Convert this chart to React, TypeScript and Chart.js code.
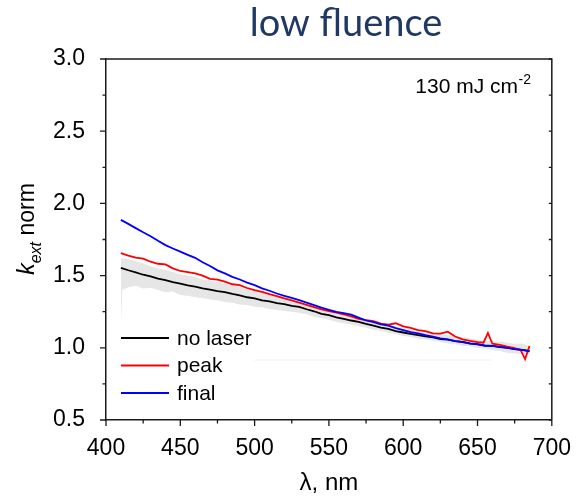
import React, { useEffect, useRef } from "react";
import { Chart, registerables } from "chart.js";

Chart.register(...registerables);

// ---------- data ----------
const chartTitle = "low fluence";
const xAxisTitle = "λ, nm";
const fluenceLabel = "130 mJ cm";
const fluenceExp = "-2";

const xMajorTicks = [400, 450, 500, 550, 600, 650, 700];
const xMinorTicks = [425, 475, 525, 575, 625, 675];
const yMajorTicks = [0.5, 1.0, 1.5, 2.0, 2.5, 3.0];
const yMinorTicks = [0.75, 1.25, 1.75, 2.25, 2.75];

const wavelengths = [
  410, 415, 420, 425, 430, 435, 440, 445, 450, 455, 460, 465, 470, 475, 480, 485, 490, 495, 500, 505,
  510, 515, 520, 525, 530, 535, 540, 545, 550, 555, 560, 565, 570, 575, 580, 585, 590, 595, 600, 605,
  610, 615, 620, 625, 630, 635, 640, 645, 650, 655, 660, 665, 670, 675, 680, 685,
];

const noLaser = [
  1.554, 1.537, 1.523, 1.506, 1.494, 1.479, 1.468, 1.455, 1.445, 1.432, 1.423, 1.411, 1.403, 1.393, 1.386, 1.373,
  1.363, 1.350, 1.342, 1.329, 1.321, 1.310, 1.302, 1.291, 1.283, 1.267, 1.253, 1.235, 1.226, 1.211, 1.201, 1.189,
  1.179, 1.165, 1.153, 1.139, 1.131, 1.116, 1.106, 1.096, 1.088, 1.079, 1.072, 1.061, 1.056, 1.046, 1.041, 1.031,
  1.023, 1.014, 1.013, 1.006, 1.001, 0.991, 0.986, 0.978,
];

const finalState = [
  1.886, 1.858, 1.829, 1.800, 1.773, 1.741, 1.711, 1.688, 1.666, 1.644, 1.623, 1.592, 1.566, 1.536, 1.515, 1.491,
  1.473, 1.451, 1.434, 1.412, 1.395, 1.376, 1.360, 1.345, 1.330, 1.313, 1.296, 1.278, 1.263, 1.248, 1.240, 1.230,
  1.209, 1.189, 1.177, 1.163, 1.153, 1.136, 1.123, 1.109, 1.100, 1.087, 1.078, 1.066, 1.058, 1.046, 1.040, 1.029,
  1.025, 1.017, 1.014, 1.004, 0.999, 0.991, 0.986, 0.975,
];

const peakWavelengths = [
  410, 415, 420, 425, 430, 435, 440, 445, 450, 455, 460, 465, 470, 475, 480, 485, 490, 495, 500, 505,
  510, 515, 520, 525, 530, 535, 540, 545, 550, 555, 560, 565, 570, 575, 580, 585, 590, 595, 600, 605,
  610, 615, 620, 625, 630, 635, 640, 645, 650, 654, 657, 660, 665, 670, 675, 679, 682, 685,
];

const peak = [
  1.655, 1.638, 1.625, 1.618, 1.596, 1.582, 1.578, 1.550, 1.532, 1.524, 1.515, 1.500, 1.478, 1.472, 1.458, 1.440,
  1.434, 1.414, 1.400, 1.388, 1.372, 1.358, 1.342, 1.328, 1.313, 1.297, 1.281, 1.266, 1.254, 1.243, 1.231, 1.218,
  1.200, 1.192, 1.185, 1.168, 1.160, 1.170, 1.148, 1.138, 1.122, 1.115, 1.100, 1.098, 1.112, 1.078, 1.058, 1.048,
  1.040, 1.035, 1.103, 1.028, 1.020, 1.008, 0.998, 0.985, 0.922, 1.012,
];

const bandWavelengths = [
  410, 411, 415, 420, 425, 430, 435, 440, 445, 450, 455, 460, 465, 470, 475, 480, 485, 490, 495, 500,
  505, 510, 515, 520, 525, 530, 535, 540, 545, 550, 555, 560, 565, 570, 575, 580, 585, 590, 595, 600,
  605, 610, 615, 620, 625, 630, 635, 640, 645, 650, 655, 660, 665, 670, 675, 680, 685,
];

const bandUpper = [
  1.620, 1.620, 1.615, 1.600, 1.585, 1.565, 1.550, 1.540, 1.525, 1.510, 1.500, 1.490, 1.475, 1.465, 1.455, 1.445,
  1.432, 1.420, 1.410, 1.398, 1.386, 1.370, 1.356, 1.342, 1.330, 1.316, 1.300, 1.284, 1.268, 1.254, 1.242, 1.232,
  1.222, 1.210, 1.198, 1.186, 1.174, 1.163, 1.150, 1.138, 1.128, 1.120, 1.112, 1.103, 1.094, 1.088, 1.080, 1.073,
  1.064, 1.056, 1.050, 1.046, 1.043, 1.035, 1.028, 1.030, 1.010,
];

const bandLower = [
  1.160, 1.400, 1.420, 1.430, 1.410, 1.415, 1.400, 1.385, 1.390, 1.365, 1.360, 1.350, 1.345, 1.335, 1.330, 1.318,
  1.312, 1.300, 1.296, 1.285, 1.280, 1.268, 1.262, 1.255, 1.250, 1.242, 1.232, 1.215, 1.205, 1.195, 1.180, 1.170,
  1.162, 1.150, 1.140, 1.125, 1.118, 1.105, 1.095, 1.082, 1.075, 1.062, 1.058, 1.048, 1.040, 1.030, 1.025, 1.015,
  1.010, 0.998, 0.995, 0.985, 0.978, 0.965, 0.960, 0.955, 0.955,
];

const faintLineX = [500, 660];
const faintLineY = [0.915, 0.915];

const seriesLabels = ["no laser", "peak", "final"];
const seriesColors = ["#000000", "#ff0000", "#0000ff"];

// ---------- helpers ----------
const toPoints = (xs: number[], ys: number[]) => xs.map((x, i) => ({ x, y: ys[i] }));

const AXIS_COLOR = "#1a1a1a";
const TICK_FONT = '"Liberation Sans", Arial, sans-serif';
const LINE_W = 1.8;

const decorPlugin = {
  id: "decor",
  afterDraw(chart: any) {
    const ctx = chart.ctx as CanvasRenderingContext2D;
    const { left, right, top, bottom } = chart.chartArea;
    const xs = chart.scales.x;
    const ys = chart.scales.y;
    ctx.save();

    // frame top & right
    ctx.strokeStyle = AXIS_COLOR;
    ctx.lineWidth = 1.5;
    ctx.beginPath();
    ctx.moveTo(left, top);
    ctx.lineTo(right, top);
    ctx.lineTo(right, bottom);
    ctx.stroke();

    // ticks
    ctx.lineWidth = 1.3;
    ctx.beginPath();
    xMajorTicks.forEach((v) => {
      const p = xs.getPixelForValue(v);
      ctx.moveTo(p, bottom);
      ctx.lineTo(p, bottom + 6);
    });
    xMinorTicks.forEach((v) => {
      const p = xs.getPixelForValue(v);
      ctx.moveTo(p, bottom);
      ctx.lineTo(p, bottom + 3.5);
    });
    yMajorTicks.forEach((v) => {
      const p = ys.getPixelForValue(v);
      ctx.moveTo(left, p);
      ctx.lineTo(left - 6, p);
    });
    yMinorTicks.forEach((v) => {
      const p = ys.getPixelForValue(v);
      ctx.moveTo(left, p);
      ctx.lineTo(left - 3.5, p);
    });
    [...yMajorTicks, ...yMinorTicks].forEach((v) => {
      const p = ys.getPixelForValue(v);
      ctx.moveTo(right, p);
      ctx.lineTo(right - 3, p);
    });
    ctx.stroke();

    // title
    ctx.fillStyle = "#1f3864";
    ctx.font = '38px Lato, "Open Sans", sans-serif';
    ctx.textAlign = "center";
    ctx.textBaseline = "alphabetic";
    ctx.fillText(chartTitle, 346, 36);

    // x-axis title
    ctx.fillStyle = "#000";
    ctx.font = `24px ${TICK_FONT}`;
    ctx.fillText(xAxisTitle, (left + right) / 2, 490);

    // y-axis title: k_ext norm
    ctx.save();
    ctx.translate(34, 229);
    ctx.rotate(-Math.PI / 2);
    ctx.textAlign = "left";
    ctx.font = `italic 23px ${TICK_FONT}`;
    const wk = ctx.measureText("k").width;
    ctx.font = `italic 16px ${TICK_FONT}`;
    const we = ctx.measureText("ext").width;
    ctx.font = `23px ${TICK_FONT}`;
    const wn = ctx.measureText(" norm").width;
    const x0 = -(wk + we + wn) / 2;
    ctx.font = `italic 23px ${TICK_FONT}`;
    ctx.fillText("k", x0, 0);
    ctx.font = `italic 16px ${TICK_FONT}`;
    ctx.fillText("ext", x0 + wk, 7);
    ctx.font = `23px ${TICK_FONT}`;
    ctx.fillText(" norm", x0 + wk + we, 0);
    ctx.restore();

    // fluence annotation
    ctx.textAlign = "right";
    ctx.font = `21px ${TICK_FONT}`;
    ctx.fillText(fluenceLabel, 518, 93);
    ctx.textAlign = "left";
    ctx.font = `14px ${TICK_FONT}`;
    ctx.fillText(fluenceExp, 518.5, 84);

    // legend
    ctx.font = `21px ${TICK_FONT}`;
    ctx.textBaseline = "middle";
    seriesLabels.forEach((lab, i) => {
      const y = 338 + i * 27.5;
      ctx.strokeStyle = seriesColors[i];
      ctx.lineWidth = LINE_W;
      ctx.beginPath();
      ctx.moveTo(121, y);
      ctx.lineTo(169, y);
      ctx.stroke();
      ctx.fillStyle = "#000";
      ctx.fillText(lab, 177, y + 1);
    });

    ctx.restore();
  },
};

export default function App() {
  const canvasRef = useRef<HTMLCanvasElement | null>(null);

  useEffect(() => {
    const canvas = canvasRef.current;
    if (!canvas) return;
    const chart = new Chart(canvas, {
      type: "line",
      data: {
        datasets: [
          {
            label: seriesLabels[2],
            data: toPoints(wavelengths, finalState),
            borderColor: seriesColors[2],
            borderWidth: LINE_W,
            pointRadius: 0,
            tension: 0,
            fill: false,
            order: 0,
          },
          {
            label: seriesLabels[1],
            data: toPoints(peakWavelengths, peak),
            borderColor: seriesColors[1],
            borderWidth: LINE_W,
            pointRadius: 0,
            tension: 0,
            fill: false,
            order: 1,
          },
          {
            label: seriesLabels[0],
            data: toPoints(wavelengths, noLaser),
            borderColor: seriesColors[0],
            borderWidth: LINE_W,
            pointRadius: 0,
            tension: 0,
            fill: false,
            order: 2,
          },
          {
            label: "band upper",
            data: toPoints(bandWavelengths, bandUpper),
            borderColor: "rgba(0,0,0,0)",
            borderWidth: 0,
            backgroundColor: "#e6e6e6",
            pointRadius: 0,
            tension: 0,
            fill: "+1",
            order: 3,
          },
          {
            label: "band lower",
            data: toPoints(bandWavelengths, bandLower),
            borderColor: "rgba(0,0,0,0)",
            borderWidth: 0,
            pointRadius: 0,
            tension: 0,
            fill: false,
            order: 4,
          },
          {
            label: "faint",
            data: toPoints(faintLineX, faintLineY),
            borderColor: "#efefef",
            borderWidth: 1,
            pointRadius: 0,
            fill: false,
            order: 5,
          },
        ],
      },
      options: {
        animation: false,
        responsive: false,
        devicePixelRatio: 1,
        layout: { padding: { top: 59, right: 24, left: 0, bottom: 0 } },
        plugins: {
          legend: { display: false },
          title: { display: false },
          tooltip: { enabled: false },
        },
        scales: {
          x: {
            type: "linear",
            min: 400,
            max: 700,
            grid: { display: false },
            border: { display: true, color: AXIS_COLOR, width: 1.5 },
            ticks: {
              stepSize: 50,
              color: "#000",
              font: { family: TICK_FONT, size: 23 },
              padding: 7,
              maxRotation: 0,
              autoSkip: false,
              callback: (v: any) => String(v),
            },
            afterFit: (s: any) => {
              s.height = 82;
            },
          },
          y: {
            type: "linear",
            min: 0.5,
            max: 3.0,
            grid: { display: false },
            border: { display: true, color: AXIS_COLOR, width: 1.5 },
            ticks: {
              stepSize: 0.5,
              color: "#000",
              font: { family: TICK_FONT, size: 23 },
              padding: 13,
              autoSkip: false,
              callback: (v: any) => Number(v).toFixed(1),
            },
            afterFit: (s: any) => {
              s.width = 106;
            },
          },
        },
      },
      plugins: [decorPlugin],
    });
    return () => chart.destroy();
  }, []);

  return (
    <div style={{ position: "absolute", left: 0, top: 0, width: 578, height: 502, background: "#fff" }}>
      <canvas ref={canvasRef} width={578} height={502} style={{ display: "block", width: 578, height: 502 }} />
    </div>
  );
}
